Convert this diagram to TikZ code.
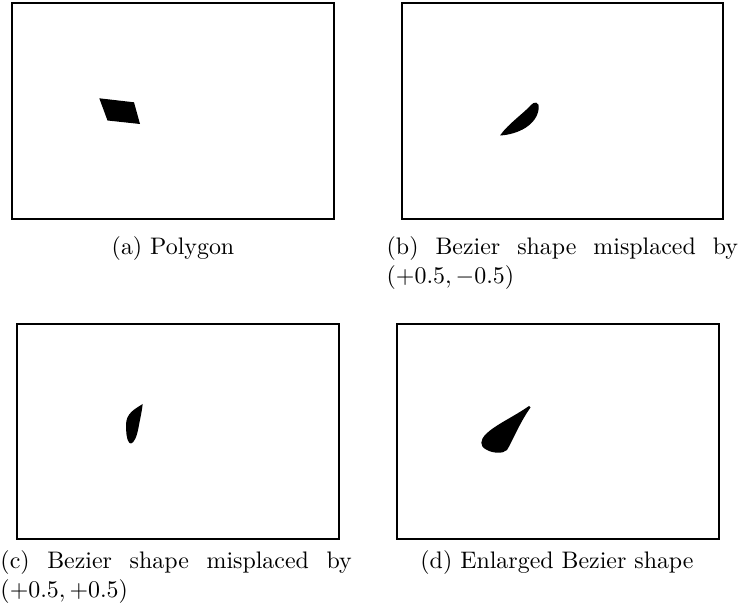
\documentclass[tikz,border=0pt]{standalone}
\begin{document}
\begin{tikzpicture}[x=0.4184pt,y=-0.4184pt,
  frame/.style={draw=black,line width=0.85pt},
  blob/.style={fill=black,draw=none},
  captext/.style={inner sep=0pt,outer sep=0pt},
  capwide/.style={captext,text width=147pt,align=justify}]
\useasboundingbox (0,0) rectangle (740,612);
% frames
\draw[frame] (12,3.3) rectangle (334,219);
\draw[frame] (401.7,3.3) rectangle (723.3,219);
\draw[frame] (16.7,324.3) rectangle (339,539);
\draw[frame] (396.7,324.3) rectangle (719,539);
% (a) polygon
\fill[blob] (99.3,98.3) -- (134,102.3) -- (140,124) -- (107.5,120.5) -- cycle;
% (b) bezier shape
\fill[blob] (500,135.5) .. controls (518,134.5) and (537,125) .. (538.7,108.5)
  .. controls (539.5,101.5) and (534,101) .. (530.5,105.5)
  .. controls (524,113) and (508,124) .. (500,135.5) -- cycle;
% (c) bezier shape
\fill[blob] (142.7,404) .. controls (135,409) and (126,413) .. (126,425)
  .. controls (126,440) and (129,444) .. (131,443.5)
  .. controls (134,443) and (137,437) .. (139,425)
  .. controls (141,415) and (142,410) .. (142.7,404) -- cycle;
% (d) enlarged bezier shape
\fill[blob] (529,406) .. controls (515,416) and (495,425) .. (486,434)
  .. controls (480,440) and (479.5,446) .. (486,449.5)
  .. controls (493,453.5) and (503,454) .. (507,450)
  .. controls (511,444) and (520,422) .. (530.5,407.5) -- cycle;
% captions
\node[captext,anchor=base] (capa) at (173,255) {(a) Polygon};
\node[capwide,anchor=base west] (capb) at (386.7,255) {(b) Bezier shape misplaced by $(+0.5,-0.5)$};
\node[capwide,anchor=base west] (capc) at (0.5,569) {(c) Bezier shape misplaced by $(+0.5,+0.5)$};
\node[captext,anchor=base] (capd) at (557,569) {(d) Enlarged Bezier shape};
\end{tikzpicture}
\end{document}
